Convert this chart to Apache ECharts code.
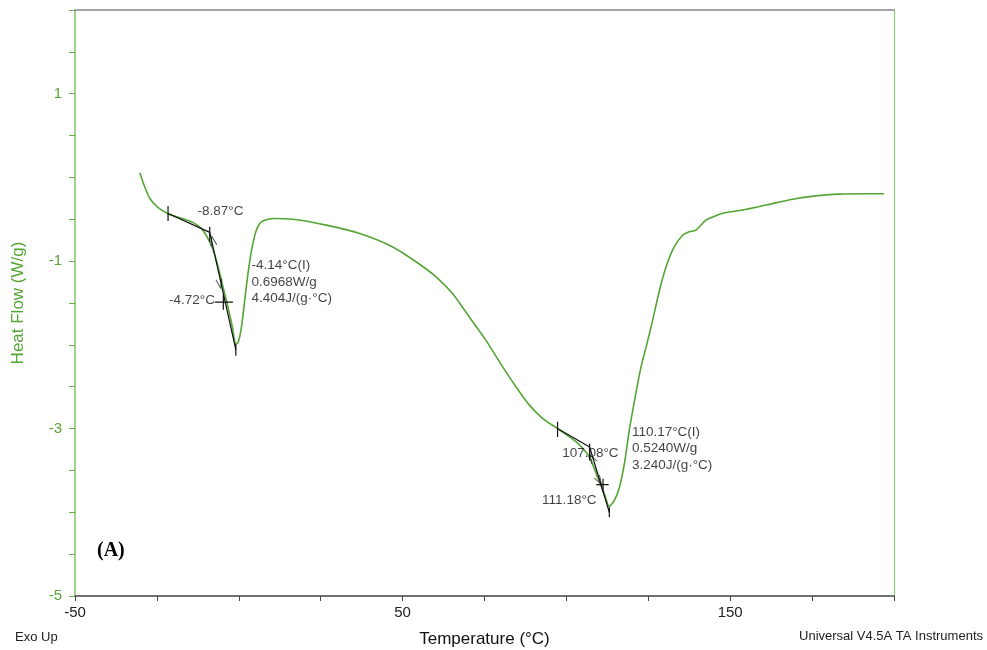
<!DOCTYPE html>
<html>
<head>
<meta charset="utf-8">
<script src="https://cdn.jsdelivr.net/npm/echarts@6/dist/echarts.min.js"></script>
<style>html,body{margin:0;padding:0;background:#fff}#c{width:987px;height:650px}</style>
</head>
<body>
<div id="c"></div>
<script>
// ---- data ----
var temps = [-30.2,-28.7,-27.1,-24.6,-21.6,-18.0,-13.9,-11.4,-9.4,-7.8,-6.3,-4.8,-3.3,-1.95,-0.9,-0.2,0.8,1.8,2.8,3.9,5.2,6.4,7.9,10.5,16.6,26.7,36.9,47.0,54.2,60.3,65.3,70.4,75.5,80.5,84.6,88.7,92.8,97.3,103.0,107.0,109.5,111.6,113.1,114.6,116.2,117.7,119.2,121.2,122.8,124.3,126.3,128.4,130.4,132.9,135.5,137.5,139.5,142.6,146.1,148.7,153.7,160.9,169.0,176.1,183.2,190.0,196.9];
var heatFlow = [0.057,-0.115,-0.254,-0.361,-0.433,-0.481,-0.540,-0.612,-0.731,-0.871,-1.07,-1.31,-1.55,-1.79,-1.99,-1.97,-1.79,-1.47,-1.15,-0.87,-0.65,-0.55,-0.513,-0.49,-0.50,-0.57,-0.67,-0.83,-1.01,-1.19,-1.39,-1.67,-1.95,-2.26,-2.50,-2.72,-2.88,-3.00,-3.16,-3.34,-3.58,-3.78,-3.93,-3.86,-3.70,-3.42,-3.02,-2.58,-2.26,-2.03,-1.71,-1.35,-1.07,-0.83,-0.69,-0.65,-0.63,-0.51,-0.45,-0.42,-0.39,-0.33,-0.26,-0.22,-0.20,-0.195,-0.195];

var xTickLabels = [-50, 50, 150];
var yTickLabels = [-5, -3, -1, 1];

// analysis annotations (temperature, heat flow)
var tangentLines = [
  [[-21.6,-0.43],[-8.87,-0.656]],
  [[-8.87,-0.656],[-0.9,-2.06]],
  [[97.3,-3.0],[107.08,-3.22]],
  [[107.08,-3.22],[113.1,-4.0]]
];
var tickMarks = [
  [[-21.6,-0.34],[-21.6,-0.52]],
  [[-8.87,-0.59],[-8.87,-0.77]],
  [[-4.72,-1.40],[-4.72,-1.58]],
  [[-7.3,-1.49],[-1.8,-1.49]],
  [[-0.9,-1.99],[-0.9,-2.13]],
  [[97.3,-2.92],[97.3,-3.10]],
  [[107.08,-3.18],[107.08,-3.38]],
  [[111.18,-3.60],[111.18,-3.76]],
  [[109.1,-3.67],[112.9,-3.67]],
  [[113.1,-3.94],[113.1,-4.06]]
];
var arrowMarks = [[-7.9,-0.76,12],[-5.8,-1.27,192],[107.9,-3.36,30],[110.0,-3.62,210]];
var annotTexts = [
  {x:-12.6, y:-0.41, t:'-8.87°C', align:'left'},
  {x:-7.3, y:-1.47, t:'-4.72°C', align:'right'},
  {x:3.9, y:-1.25, t:'-4.14°C(I)\n0.6968W/g\n4.404J/(g·°C)', align:'left'},
  {x:98.7, y:-3.29, t:'107.08°C', align:'left'},
  {x:109.2, y:-3.86, t:'111.18°C', align:'right'},
  {x:120.0, y:-3.24, t:'110.17°C(I)\n0.5240W/g\n3.240J/(g·°C)', align:'left'}
];

var curve = temps.map(function(t,i){return [t, heatFlow[i]];});
var green = '#55a536';
var FONT = '"Liberation Sans", Arial, sans-serif';

var series = [{
  type:'line', data: curve, showSymbol:false, symbol:'none',
  smooth:0.25,
  lineStyle:{color:green, width:1.6}, z:2, silent:true
}];
tangentLines.concat(tickMarks).forEach(function(seg){
  series.push({type:'line', data:seg, symbol:'none', silent:true,
    lineStyle:{color:'#111', width:1.2}, z:3});
});
series.push({
  type:'scatter', silent:true, z:4,
  data: arrowMarks.map(function(a){return {value:[a[0],a[1]], symbolRotate:a[2]};}),
  symbol:'path://M0,10L5,0L10,10', symbolSize:[6,9],
  itemStyle:{color:'rgba(0,0,0,0)', borderColor:'#111', borderWidth:1}
});
series.push({
  type:'scatter', silent:true, z:5, symbolSize:0,
  data: annotTexts.map(function(a){
    return {value:[a.x,a.y], label:{show:true, position:'inside', align:a.align,
      verticalAlign:'middle', formatter:a.t, color:'#111', fontSize:13.5,
      lineHeight:16.5, fontFamily:FONT}};
  })
});

var chart = echarts.init(document.getElementById('c'), null, {renderer:'canvas'});
chart.setOption({
  animation:false,
  backgroundColor:'#fff',
  grid:{left:75, right:93, top:10, bottom:54, containLabel:false, outerBoundsMode:'none'},
  xAxis:[{
    type:'value', min:-50, max:200, interval:25,
    name:'Temperature (°C)', nameLocation:'middle', nameGap:35,
    nameTextStyle:{color:'#111', fontSize:17, fontFamily:FONT},
    axisLine:{show:true, onZero:false, lineStyle:{color:'#444', width:1.5}},
    axisTick:{show:true, length:5, lineStyle:{color:'#444'}},
    axisLabel:{color:'#222', fontSize:15, fontFamily:FONT, margin:9,
      formatter:function(v){return xTickLabels.indexOf(Math.round(v))>=0 ? String(Math.round(v)) : '';}},
    splitLine:{show:false}
  },{
    type:'value', position:'top', min:-50, max:200,
    axisLine:{show:true, onZero:false, lineStyle:{color:'#888', width:1.5}},
    axisTick:{show:false}, axisLabel:{show:false}, splitLine:{show:false}
  }],
  yAxis:[{
    type:'value', min:-5, max:2, interval:0.5,
    name:'Heat Flow (W/g)', nameLocation:'middle', nameGap:48, nameRotate:90,
    nameTextStyle:{color:green, fontSize:17, fontFamily:FONT},
    axisLine:{show:true, onZero:false, lineStyle:{color:'#7cc066', width:1.5}},
    axisTick:{show:true, length:6, lineStyle:{color:'#6aaa55'}},
    axisLabel:{color:green, fontSize:15, fontFamily:FONT, margin:13,
      formatter:function(v){var r=Math.round(v*10)/10;return yTickLabels.indexOf(r)>=0 ? String(r) : '';}},
    splitLine:{show:false}
  },{
    type:'value', position:'right', min:-5, max:2,
    axisLine:{show:true, onZero:false, lineStyle:{color:'#8cce78', width:1.2}},
    axisTick:{show:false}, axisLabel:{show:false}, splitLine:{show:false}
  }],
  graphic:[
    {type:'text', left:15, top:631, style:{text:'Exo Up', fill:'#222', font:'13px '+FONT}},
    {type:'text', right:4, top:630, style:{text:'Universal V4.5A TA Instruments', fill:'#222', font:'13px '+FONT}},
    {type:'text', left:97, top:541, style:{text:'(A)', fill:'#000', font:'bold 20px "Liberation Serif", "Times New Roman", serif'}}
  ],
  series: series
});
</script>
</body>
</html>
